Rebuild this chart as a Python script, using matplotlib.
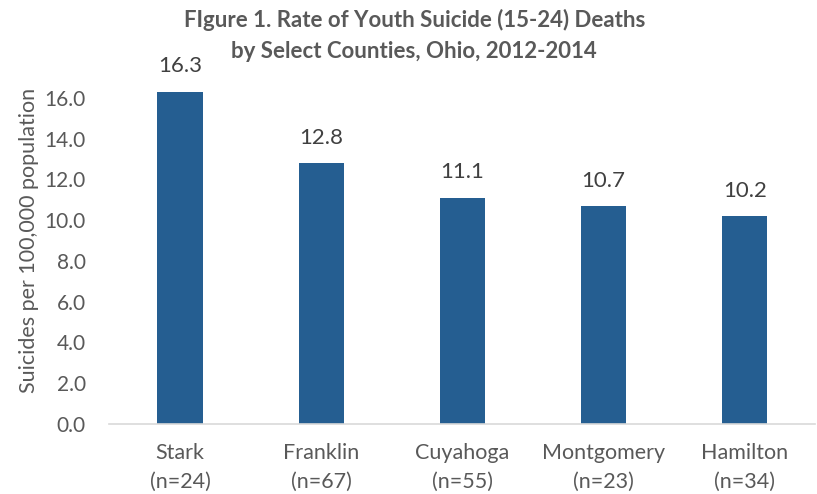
import matplotlib.pyplot as plt

counties = ["Stark\n(n=24)", "Franklin\n(n=67)", "Cuyahoga\n(n=55)", "Montgomery\n(n=23)", "Hamilton\n(n=34)"]
rates = [16.3, 12.8, 11.1, 10.7, 10.2]
yticks = [0, 2, 4, 6, 8, 10, 12, 14, 16]

plt.rcParams['font.family'] = ['Lato', 'DejaVu Sans']
grey = '#595959'

fig = plt.figure(figsize=(8.17, 4.94), dpi=100)
ax = fig.add_axes([0.134, 0.1417, 0.864, 0.743])

x = range(len(counties))
bars = ax.bar(x, rates, width=0.32, color='#255E91')
for xi, v in zip(x, rates):
    ax.text(xi, v + 0.75, f"{v:.1f}", ha='center', va='bottom', fontsize=16, color='#404040')

ax.set_xlim(-0.5, len(counties) - 0.5)
ax.set_ylim(0, 18)
ax.set_yticks(yticks)
ax.set_yticklabels([f"{t:.1f}" for t in yticks])
ax.set_xticks(list(x))
ax.set_xticklabels(counties, linespacing=1.55)
ax.tick_params(axis='both', length=0, labelsize=15, colors=grey)
ax.tick_params(axis='x', labelsize=15.5, pad=14)
ax.tick_params(axis='y', pad=17)
for s in ['top', 'right', 'left']:
    ax.spines[s].set_visible(False)
ax.spines['bottom'].set_color('#d9d9d9')
ax.spines['bottom'].set_linewidth(1.2)

ax.set_ylabel("Suicides per 100,000 population", fontsize=15.5, color=grey, labelpad=4)

# title as two separate lines
title_lines = ["FIgure 1. Rate of Youth Suicide (15-24) Deaths",
               "by Select Counties, Ohio, 2012-2014"]
for i, line in enumerate(title_lines):
    fig.text(0.507, 0.96 - i * 0.065, line, ha='center', va='center',
             fontsize=16, fontweight='bold', color=grey)

fig.savefig("out.png", dpi=100)
